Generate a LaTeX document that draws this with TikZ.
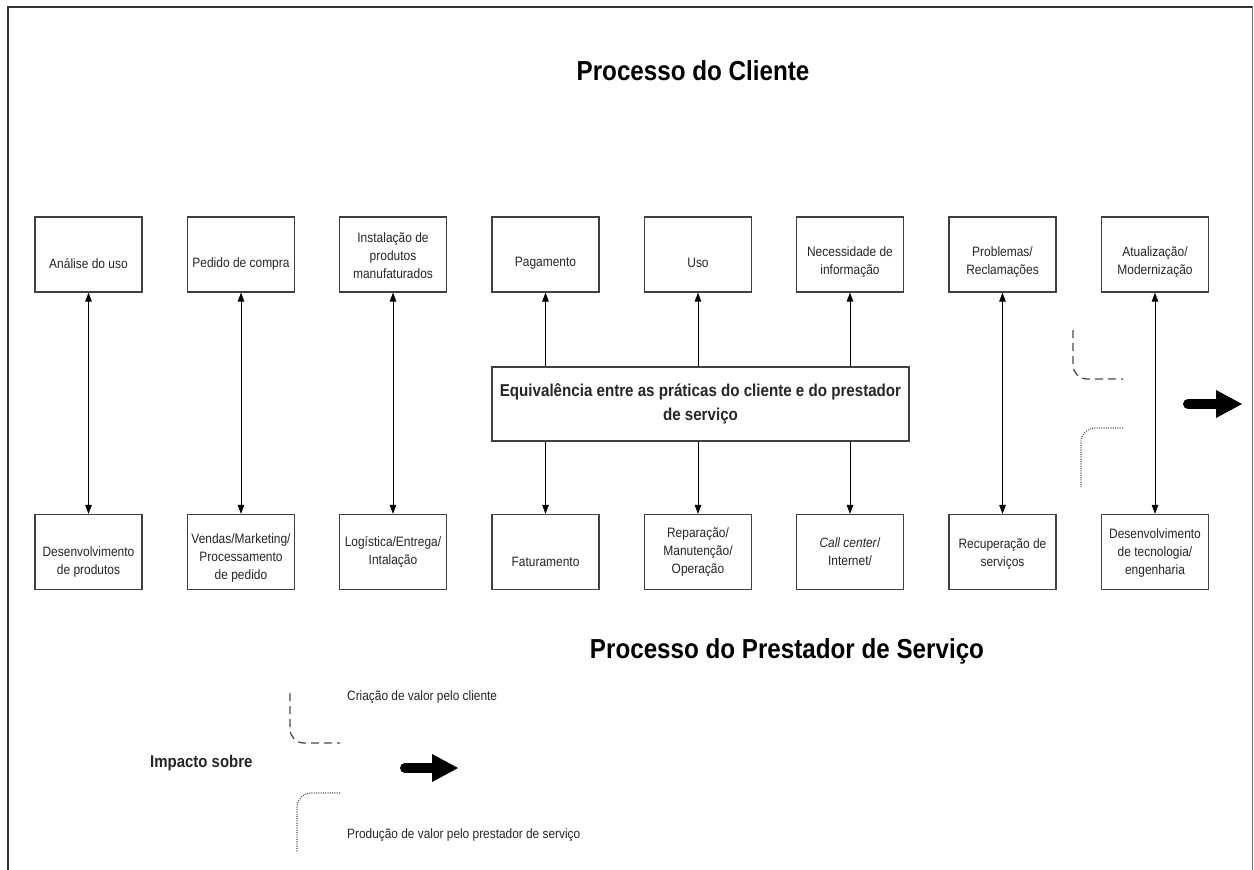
\documentclass[tikz,border=0pt]{standalone}
\usepackage{fontspec}
\setmainfont{Liberation Sans}[FakeStretch=0.88]
\usetikzlibrary{arrows.meta}

\begin{document}
\begin{tikzpicture}[x=1pt,y=-1pt,
  frame/.style={draw=black!80, line width=2pt},
  stepbox/.style={draw=black!75, line width=1.2pt, minimum width=107pt, minimum height=75pt, inner sep=0pt},
  boxtext/.style={align=center, text=black!85, inner sep=0pt, font=\fontsize{13.6}{18}\selectfont},
  eqbox/.style={draw=black!75, line width=1.2pt, minimum width=417pt, minimum height=74pt, inner sep=0pt},
  title/.style={text=black, inner sep=0pt, font=\fontsize{27.5}{30}\selectfont\bfseries},
  legendtext/.style={anchor=west, text=black!85, inner sep=0pt, font=\fontsize{13.5}{15}\selectfont},
  link/.style={draw=black, line width=0.9pt},
  tipboth/.style={link, {Triangle[length=9pt,width=6.5pt]}-{Triangle[length=9pt,width=6.5pt]}},
  tipend/.style={link, -{Triangle[length=9pt,width=6.5pt]}},
  dashline/.style={draw=black!70, line width=1.3pt, dash pattern=on 8pt off 5pt, rounded corners=14pt},
  dotline/.style={draw=black!70, line width=1.1pt, dash pattern=on 1pt off 1.3pt, rounded corners=14pt},
  bigarrow/.style={fill=black, draw=none}
]
\useasboundingbox (0,0) rectangle (1254,870);
\fill[white] (0,0) rectangle (1254,870);

% outer frame (open at the bottom)
\draw[frame] (7.5,870) -- (7.5,7) -- (1252.5,7);
\draw[draw=black!55, line width=1.5pt] (1252.5,7) -- (1252.5,870);

% titles
\node[title] (tclient) at (693,71) {Processo do Cliente};
\node[title] (tprest) at (787,651) {Processo do Prestador de Serviço};

% client row (top) and provider row (bottom)
\foreach \i/\xx in {1/88.5,2/241,3/393,4/545.5,5/698,6/850,7/1002.5,8/1155} {
  \node[stepbox] (t\i) at (\xx,254.5) {};
  \node[stepbox] (b\i) at (\xx,552) {};
}

% texts of the top row
\node[boxtext] (tt1) at (88.5,264) {Análise do uso};
\node[boxtext] (tt2) at (241,264) {Pedido de compra};
\node[boxtext] (tt3) at (393,256) {Instalação de\\produtos\\manufaturados};
\node[boxtext] (tt4) at (545.5,263) {Pagamento};
\node[boxtext] (tt5) at (698,263) {Uso};
\node[boxtext] (tt6) at (850,262) {Necessidade de\\informação};
\node[boxtext] (tt7) at (1002.5,262) {Problemas/\\Reclamações};
\node[boxtext] (tt8) at (1155,262) {Atualização/\\Modernização};

% texts of the bottom row
\node[boxtext] (bt1) at (88.5,562) {Desenvolvimento\\de produtos};
\node[boxtext] (bt2) at (241,558) {Vendas/Marketing/\\Processamento\\de pedido};
\node[boxtext] (bt3) at (393,552) {Logística/Entrega/\\Intalação};
\node[boxtext] (bt4) at (545.5,562) {Faturamento};
\node[boxtext] (bt5) at (698,552) {Reparação/\\Manutenção/\\Operação};
\node[boxtext] (bt6) at (850,552) {\textit{Call center}/\\Internet/};
\node[boxtext] (bt7) at (1002.5,554) {Recuperação de\\serviços};
\node[boxtext] (bt8) at (1155,553) {Desenvolvimento\\de tecnologia/\\engenharia};

% central box
\node[eqbox] (eq) at (700.5,404) {};
\node[align=center, text=black!85, inner sep=0pt, font=\fontsize{17.2}{24}\selectfont\bfseries] (eqt) at (700.5,404)
  {Equivalência entre as práticas do cliente e do prestador\\de serviço};

% direct correspondences
\foreach \i in {1,2,3,7,8} {
  \draw[tipboth] (t\i.south) -- (b\i.north);
}
% correspondences through the central box
\foreach \i in {4,5,6} {
  \draw[tipend] (eq.north -| t\i) -- (t\i.south);
  \draw[tipend] (eq.south -| t\i) -- (b\i.north);
}

% right-hand impact marks
\coordinate (rda) at (1073,330);
\coordinate (rdb) at (1073,379);
\coordinate (rdc) at (1123,379);
\draw[dashline] (rda) -- (rdb) -- (rdc);
\coordinate (rpa) at (1123,428);
\coordinate (rpb) at (1081,428);
\coordinate (rpc) at (1081,487);
\draw[dotline] (rpa) -- (rpb) -- (rpc);
\draw[line width=10pt, line cap=round] (1188,404) -- (1219,404);
\fill[bigarrow] (1216,390) -- (1242,404) -- (1216,418) -- cycle;

% legend
\node[inner sep=0pt, text=black!85, font=\fontsize{17}{19}\selectfont\bfseries, anchor=west] (imp) at (150,763) {Impacto sobre};
\coordinate (lda) at (290,693);
\coordinate (ldb) at (290,743);
\coordinate (ldc) at (340,743);
\draw[dashline] (lda) -- (ldb) -- (ldc);
\coordinate (lpa) at (340,793);
\coordinate (lpb) at (297,793);
\coordinate (lpc) at (297,852);
\draw[dotline] (lpa) -- (lpb) -- (lpc);
\draw[line width=10pt, line cap=round] (405,768) -- (435,768);
\fill[bigarrow] (432,754) -- (458,768) -- (432,782) -- cycle;
\node[legendtext] (lcri) at (347,697) {Criação de valor pelo cliente};
\node[legendtext] (lpro) at (347,835) {Produção de valor pelo prestador de serviço};
\end{tikzpicture}
\end{document}
